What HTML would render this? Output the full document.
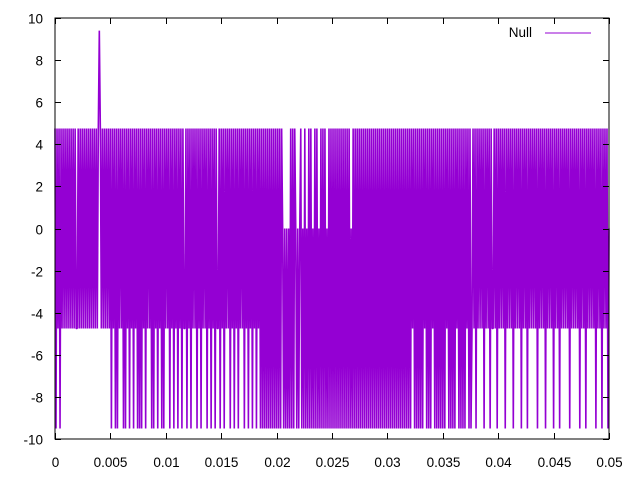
<!DOCTYPE html>
<html><head><meta charset="utf-8"><style>
html,body{margin:0;padding:0;background:#fff;}
svg{display:block;font-family:"Liberation Sans",sans-serif;font-size:13.5px;}
</style></head><body>
<svg id="chart" width="640" height="480">
<g id="plot"></g>
<g id="axes"></g>
<g id="legend">
<text x="532" y="37" text-anchor="end">Null</text>
<line x1="545" y1="33" x2="591" y2="33" stroke="#9400d3" stroke-width="1"></line>
</g>
</svg>
<script>
const xTicks = [0,0.005,0.01,0.015,0.02,0.025,0.03,0.035,0.04,0.045,0.05];
const xTickLabels = ["0","0.005","0.01","0.015","0.02","0.025","0.03","0.035","0.04","0.045","0.05"];
const yTicks = [-10,-8,-6,-4,-2,0,2,4,6,8,10];
const yTickLabels = ["-10","-8","-6","-4","-2","0","2","4","6","8","10"];
const levelCodes = {H:4.75,L:-4.75,D:-9.5,Z:0,S:9.4};
const seriesCodes =
 "HDHLHDHLHLHLHLHLHLHLHLLHLHLHLHLHLHLHLHLHLHLHSHLHLHLHLH" +
 "LHDHLHDHDHLHLHDHDHLHDHLHDHLHDHDHDHLHDHLHLHDHDHLHDHLHDHDHLHLHDHLHD" +
 "HLHDHLHDHLLHDHLHDHLHLHDHLHDHLHLHDHLHDHLHDHLLHDHLHDHLHLHDHLHDHLHDHLHLHDHLHDHLHDHLHDHLH" +
 "DHDHDHDHDHDHDHDHDHDHDH" + "ZDZDZDZD" + "HDHDH" + "ZDZDZ" +
 "HDZDHDZDHDHDZDHDHDZDHDHDHDZDHD" +
 "HDHDHDHDHDHDHDHDHDHDZDHDHDHDHDHDHDHDHDHDHDHDHDHDHDHDHDHDHDHDHDHDHDHDHD" +
 "HDHDHDHDHDHLHDHDHDHDHDHLHDHDHDHLHDHDHDHDHDHDHLHDHDHDHDHLHDHDHDHDHLHDHD" +
 "LHLHDHLHLHLHDHLHLHDHLLHLHDHLHLHLHDHLHLHLHDHLHLHLHDHLHLHDHLHLHLHLHDHLHLHLHDHLHLHLHDHLHLHDHLHLHLHLHDHLHLHLHLHDHLHLHDHLHLHLHLHDHLHLHDHLHLHDZ";
const seriesValues = seriesCodes.split("").map(c => levelCodes[c]);

const L=55,R=609,T=18,B=439;
const xMin=0,xMax=0.05,yMin=-10,yMax=10;
const xs=v=>L+(v-xMin)/(xMax-xMin)*(R-L);
const ys=v=>B-(v-yMin)/(yMax-yMin)*(B-T);
const NS="http://www.w3.org/2000/svg";
const plot=document.getElementById('plot'), axes=document.getElementById('axes');

const n=seriesValues.length;
const pts=seriesValues.map((v,i)=>xs(xMin+i*(xMax-xMin)/(n-1)).toFixed(2)+","+ys(v).toFixed(2)).join(" ");
const pl=document.createElementNS(NS,'polyline');
pl.setAttribute('points',pts);
pl.setAttribute('fill','none');
pl.setAttribute('stroke','#9400d3');
pl.setAttribute('stroke-width','1.6');
pl.setAttribute('stroke-linejoin','bevel');


plot.appendChild(pl);

const box=document.createElementNS(NS,'rect');
box.setAttribute('x',L);box.setAttribute('y',T);box.setAttribute('width',R-L);box.setAttribute('height',B-T);
box.setAttribute('fill','none');box.setAttribute('stroke','#000');box.setAttribute('stroke-width','1');


axes.appendChild(box);

xTicks.forEach((t,i)=>{
 const x=Math.round(xs(t))+0.5;
 const tk=document.createElementNS(NS,'path');
 tk.setAttribute('d',`M${x},${B}v-6M${x},${T}v6`);tk.setAttribute('stroke','#000');
 
 
 axes.appendChild(tk);
 const tx=document.createElementNS(NS,'text');
 tx.setAttribute('x',x);tx.setAttribute('y',467);tx.setAttribute('text-anchor','middle');
 tx.textContent=xTickLabels[i];
 
 
 axes.appendChild(tx);
});
yTicks.forEach((t,i)=>{
 const y=Math.round(ys(t))+0.5;
 const tk=document.createElementNS(NS,'path');
 tk.setAttribute('d',`M${L},${y}h6M${R},${y}h-6`);tk.setAttribute('stroke','#000');
 
 
 axes.appendChild(tk);
 const tx=document.createElementNS(NS,'text');
 tx.setAttribute('x',43);tx.setAttribute('y',y+5);tx.setAttribute('text-anchor','end');
 tx.textContent=yTickLabels[i];
 
 
 axes.appendChild(tx);
});
</script>
</body></html>
